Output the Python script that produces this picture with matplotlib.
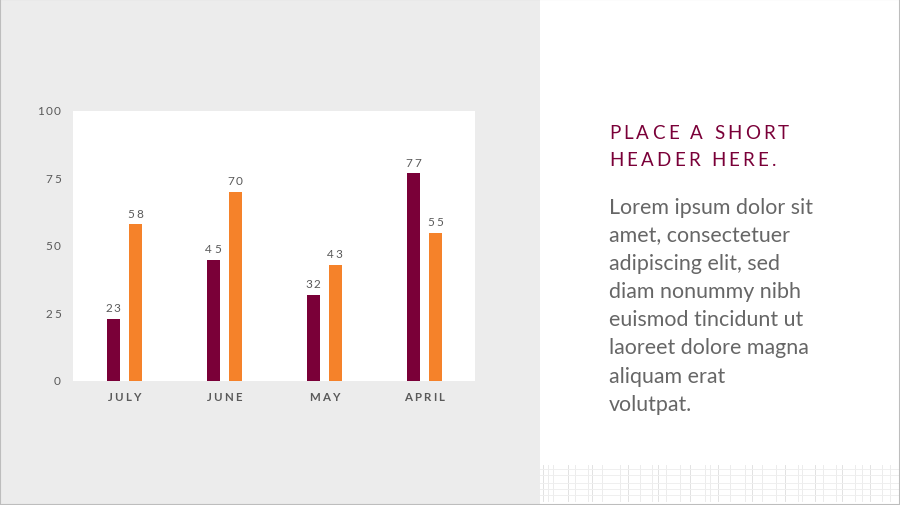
import matplotlib
matplotlib.use("Agg")
import matplotlib.pyplot as plt
from matplotlib.transforms import IdentityTransform
from matplotlib.font_manager import FontProperties
from matplotlib.patches import Rectangle
import numpy as np

categories = ["JULY", "JUNE", "MAY", "APRIL"]
series_a = [23, 45, 32, 77]
series_b = [58, 70, 43, 55]
y_ticks = [0, 25, 50, 75, 100]
header_lines = ["PLACE A SHORT", "HEADER HERE."]
body_lines = ["Lorem ipsum dolor sit", "amet, consectetuer", "adipiscing elit, sed",
              "diam nonummy nibh", "euismod tincidunt ut", "laoreet dolore magna",
              "aliquam erat", "volutpat."]

W, H = 900, 506
DPI = 100
MAROON = "#7a0038"
ORANGE = "#f5822a"
GRAY_TXT = "#595959"
FONT = "Lato"

fig = plt.figure(figsize=(W / DPI, H / DPI), dpi=DPI, facecolor="white")

# left grey panel
fig.patches.append(Rectangle((0, 0), 540 / W, 1, transform=fig.transFigure,
                             facecolor="#ececec", edgecolor="none", zorder=-10))
# decorative faint grid bottom right
deco = fig.add_axes([540 / W, 0, 360 / W, 52 / H], zorder=-5)
deco.set_xlim(0, 360); deco.set_ylim(0, 52)
deco.axis("off")
vx = [3, 8, 13, 28, 35, 48, 52, 62, 80, 88, 100, 112, 118, 126, 140, 150, 165, 170,
      178, 190, 205, 212, 222, 236, 245, 258, 262, 275, 283, 296, 302, 315, 322, 330, 342, 350]
for i, xv in enumerate(vx):
    deco.plot([xv, xv], [4, 40], color="#ececec" if i % 3 else "#e2e2e2", lw=0.7)
for yv in [10, 16, 22, 30, 36]:
    deco.plot([0, 360], [yv, yv], color="#efefef", lw=0.7)

renderer = fig.canvas.get_renderer()

def spaced(x, y, s, track, size, color, weight="normal", ha="center", va="center"):
    fp = FontProperties(family=FONT, size=size, weight=weight)
    widths = [renderer.get_text_width_height_descent(c, fp, ismath=False)[0] for c in s]
    total = sum(widths) + track * (len(s) - 1)
    if ha == "center":
        x0 = x - total / 2
    elif ha == "right":
        x0 = x - total
    else:
        x0 = x
    yy = H - y
    for c, w in zip(s, widths):
        fig.text(x0, yy, c, transform=IdentityTransform(), fontproperties=fp,
                 color=color, ha="left", va=va, zorder=5)
        x0 += w + track

# chart axes
ax_l, ax_r, ax_t, ax_b = 73, 475, 112, 382
ax = fig.add_axes([ax_l / W, 1 - ax_b / H, (ax_r - ax_l) / W, (ax_b - ax_t) / H])
ax.set_facecolor("white")
x = np.arange(len(categories))
off, bw = 0.11, 0.13
ax.bar(x - off, series_a, bw, color=MAROON, zorder=2)
ax.bar(x + off, series_b, bw, color=ORANGE, zorder=2)
ax.set_xlim(-0.51, 3.51)
ax.set_ylim(0, 100)
for s in ax.spines.values():
    s.set_visible(False)
ax.set_yticks(y_ticks)
ax.set_yticklabels([])
ax.set_xticks(x)
ax.set_xticklabels([])
ax.tick_params(length=0)

fig.canvas.draw()
# y tick labels
for t in y_ticks:
    _, ypix = ax.transData.transform((0, t))
    spaced(61, H - ypix, str(t), 1.5, 8.5, GRAY_TXT, ha="right")
# category labels
for i, c in enumerate(categories):
    xpix, _ = ax.transData.transform((i, 0))
    spaced(xpix, 398, c, 2.0, 8.3, GRAY_TXT, weight="bold")
# value labels
for i in range(len(categories)):
    for dx, v in ((-off, series_a[i]), (off, series_b[i])):
        xpix, ypix = ax.transData.transform((i + dx, v))
        spaced(xpix, H - ypix - 11, str(v), 1.8, 8.5, GRAY_TXT)

# header
for j, line in enumerate(header_lines):
    spaced(609, 132 + j * 27, line, 3.2, 13.5, MAROON, ha="left", va="center_baseline")
# body
for j, line in enumerate(body_lines):
    fig.text(609 / W, 1 - (208 + j * 28.1) / H, line, fontsize=15.4, family=FONT,
             color="#666666", ha="left", va="center")

# border
fig.patches.append(Rectangle((0, 0), 1, 1, transform=fig.transFigure, fill=False,
                             edgecolor="#bdbdbd", lw=1.5, zorder=10))

fig.savefig("out.png", dpi=DPI, facecolor=fig.get_facecolor())
